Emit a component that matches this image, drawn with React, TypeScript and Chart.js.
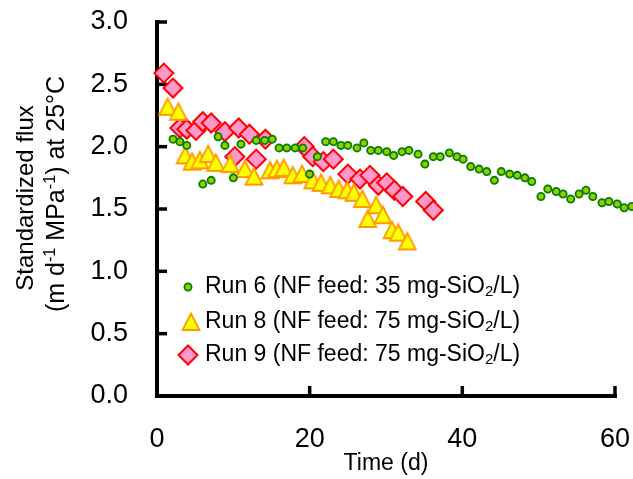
import React, { useEffect, useRef } from 'react';
import { Chart, registerables } from 'chart.js';

Chart.register(...registerables);

// ---- Data ----
const xTickValues = [0, 20, 40, 60];
const yTickValues = [0, 0.5, 1, 1.5, 2, 2.5, 3];
const xAxisEnd = 60; // the drawn axis line stops here; Run 6 points continue past it
const xViewMax = 62.36;

const run6Days = [2.1, 3.0, 3.9, 6.0, 7.1, 8.0, 8.9, 10.0, 11.0, 13.0, 14.1, 15.1, 16.0, 17.0, 18.1, 19.1, 20.0, 21.0, 22.1, 23.1, 24.1, 25.0, 26.2, 27.1, 28.0, 29.0, 30.1, 31.0, 32.1, 33.0, 34.2, 35.1, 36.2, 37.1, 38.3, 39.3, 40.1, 41.1, 42.2, 43.2, 44.2, 45.1, 46.2, 47.2, 48.2, 49.1, 50.3, 51.2, 52.3, 53.2, 54.2, 55.3, 56.2, 57.1, 58.3, 59.2, 60.3, 61.2, 62.2];
const run6Flux = [2.06, 2.04, 2.01, 1.70, 1.73, 2.08, 2.01, 1.75, 2.02, 2.05, 2.05, 2.06, 1.99, 1.99, 1.99, 1.99, 1.78, 1.92, 2.04, 2.04, 2.01, 2.01, 1.99, 2.03, 1.97, 1.97, 1.96, 1.93, 1.96, 1.97, 1.94, 1.86, 1.92, 1.92, 1.95, 1.92, 1.90, 1.84, 1.82, 1.80, 1.73, 1.80, 1.78, 1.77, 1.75, 1.72, 1.60, 1.66, 1.64, 1.62, 1.58, 1.62, 1.65, 1.60, 1.55, 1.56, 1.54, 1.51, 1.52];

const run8Days = [1.4, 2.8, 3.7, 4.6, 5.6, 6.7, 7.7, 9.6, 11.5, 12.7, 14.8, 15.7, 16.6, 17.8, 19.0, 20.4, 21.5, 22.7, 23.8, 24.9, 25.8, 26.9, 27.6, 28.7, 29.6, 30.8, 31.6, 32.8];
const run8Flux = [2.32, 2.28, 1.93, 1.88, 1.89, 1.94, 1.87, 1.86, 1.82, 1.76, 1.81, 1.82, 1.83, 1.77, 1.78, 1.73, 1.71, 1.69, 1.66, 1.65, 1.63, 1.58, 1.42, 1.53, 1.45, 1.33, 1.31, 1.24];

const run9Days = [0.9, 2.1, 3.0, 3.9, 5.1, 6.0, 7.1, 8.9, 10.2, 10.7, 12.1, 13.0, 14.2, 19.3, 20.4, 21.8, 23.1, 25.0, 26.6, 27.9, 29.0, 30.1, 31.1, 32.2, 35.2, 36.2];
const run9Flux = [2.59, 2.47, 2.15, 2.14, 2.13, 2.20, 2.19, 2.12, 1.92, 2.15, 2.10, 1.90, 2.06, 2.00, 1.92, 1.88, 1.90, 1.78, 1.74, 1.77, 1.69, 1.71, 1.65, 1.60, 1.56, 1.49];

const seriesNames = ['Run 6', 'Run 8', 'Run 9'];
const legendPre = ['Run 6 (NF feed: 35 mg-SiO', 'Run 8 (NF feed: 75 mg-SiO', 'Run 9 (NF feed: 75 mg-SiO'];
const legendSub = ['2', '2', '2'];
const legendPost = ['/L)', '/L)', '/L)'];

const xTitle = 'Time (d)';
const yTitleLine1 = 'Standardized flux';
const yTitleLine2 = [
  { t: '(m d', k: 'n' },
  { t: '-1', k: 'sup' },
  { t: ' MPa', k: 'n' },
  { t: '-1', k: 'sup' },
  { t: ') at 25°C', k: 'n' },
];

// ---- Styles ----
const FONT = '"Liberation Sans", Arial, Helvetica, sans-serif';
const GREEN_FILL = '#99CC00';
const GREEN_LINE = '#008000';
const TRI_FILL = '#FFFF00';
const TRI_LINE = '#FF9900';
const DIA_FILL = '#FF99CC';
const DIA_LINE = '#FF0000';

function makeTriangle(): HTMLCanvasElement {
  const c = document.createElement('canvas');
  c.width = 22;
  c.height = 22;
  const g = c.getContext('2d')!;
  g.beginPath();
  g.moveTo(11, 2.5);
  g.lineTo(2.5, 19);
  g.lineTo(19.5, 19);
  g.closePath();
  g.fillStyle = TRI_FILL;
  g.fill();
  g.lineWidth = 1.8;
  g.lineJoin = 'miter';
  g.strokeStyle = TRI_LINE;
  g.stroke();
  return c;
}

function fontPx(size: number) {
  return `${Math.round(size * 10) / 10}px ${FONT}`;
}

function drawRich(ctx: CanvasRenderingContext2D, segs: { t: string; k: string }[], size: number, startX: number) {
  let x = startX;
  for (const s of segs) {
    const small = s.k !== 'n';
    ctx.font = fontPx(small ? size * 0.65 : size);
    const dy = s.k === 'sup' ? -size * 0.36 : s.k === 'sub' ? size * 0.2 : 0;
    ctx.fillText(s.t, x, dy);
    x += ctx.measureText(s.t).width;
  }
}

function richWidth(ctx: CanvasRenderingContext2D, segs: { t: string; k: string }[], size: number) {
  let w = 0;
  for (const s of segs) {
    ctx.font = fontPx(s.k !== 'n' ? size * 0.65 : size);
    w += ctx.measureText(s.t).width;
  }
  return w;
}

export default function App() {
  const ref = useRef<HTMLCanvasElement | null>(null);

  useEffect(() => {
    if (!ref.current) return;
    const tri = makeTriangle();

    const customPlugin = {
      id: 'customAxes',
      beforeDatasetsDraw(chart: any) {
        const { ctx, chartArea: a, scales } = chart;
        const xEnd = scales.x.getPixelForValue(xAxisEnd);
        ctx.save();
        ctx.strokeStyle = '#000';
        ctx.lineWidth = 4;
        ctx.lineJoin = 'miter';
        ctx.lineCap = 'square';
        ctx.beginPath();
        ctx.moveTo(a.left, a.top);
        ctx.lineTo(a.left, a.bottom);
        ctx.lineTo(xEnd, a.bottom);
        ctx.stroke();
        ctx.lineCap = 'butt';
        ctx.lineWidth = 3.5;
        yTickValues.forEach((v) => {
          if (v === 0) return;
          const py = scales.y.getPixelForValue(v);
          ctx.beginPath();
          ctx.moveTo(a.left, py);
          ctx.lineTo(a.left + 10, py);
          ctx.stroke();
        });
        xTickValues.forEach((v) => {
          if (v === 0) return;
          const px = scales.x.getPixelForValue(v);
          ctx.beginPath();
          ctx.moveTo(px, a.bottom);
          ctx.lineTo(px, a.bottom - 10);
          ctx.stroke();
        });
        ctx.restore();
      },
      afterDraw(chart: any) {
        const { ctx, chartArea: a, scales } = chart;
        const xEnd = scales.x.getPixelForValue(xAxisEnd);
        ctx.save();
        ctx.fillStyle = '#000';
        // x title
        ctx.font = fontPx(23);
        ctx.textAlign = 'center';
        ctx.textBaseline = 'alphabetic';
        ctx.fillText(xTitle, (a.left + xEnd) / 2, 470);

        // y title (rotated)
        ctx.textAlign = 'left';
        ctx.save();
        ctx.translate(33, 198);
        ctx.rotate(-Math.PI / 2);
        ctx.font = fontPx(24);
        const w1 = ctx.measureText(yTitleLine1).width;
        ctx.fillText(yTitleLine1, -w1 / 2, 0);
        ctx.restore();
        ctx.save();
        ctx.translate(64, 194);
        ctx.rotate(-Math.PI / 2);
        const w2 = richWidth(ctx, yTitleLine2, 25);
        drawRich(ctx, yTitleLine2, 25, -w2 / 2);
        ctx.restore();

        // legend
        const rows = [287, 322, 355];
        const lSize = 23;
        rows.forEach((ry, i) => {
          if (i === 0) {
            ctx.beginPath();
            ctx.arc(188, ry, 3.6, 0, Math.PI * 2);
            ctx.fillStyle = GREEN_FILL;
            ctx.fill();
            ctx.lineWidth = 1.8;
            ctx.strokeStyle = GREEN_LINE;
            ctx.stroke();
          } else if (i === 1) {
            ctx.drawImage(tri, 191 - 11, ry - 11);
          } else {
            const r = 9.5;
            ctx.beginPath();
            ctx.moveTo(188, ry - r);
            ctx.lineTo(188 + r, ry);
            ctx.lineTo(188, ry + r);
            ctx.lineTo(188 - r, ry);
            ctx.closePath();
            ctx.fillStyle = DIA_FILL;
            ctx.fill();
            ctx.lineWidth = 2;
            ctx.strokeStyle = DIA_LINE;
            ctx.stroke();
          }
          ctx.fillStyle = '#000';
          ctx.save();
          ctx.translate(0, ry);
          ctx.textBaseline = 'middle';
          drawRich(
            ctx,
            [
              { t: legendPre[i], k: 'n' },
              { t: legendSub[i], k: 'sub' },
              { t: legendPost[i], k: 'n' },
            ],
            lSize,
            205
          );
          ctx.restore();
        });
        ctx.restore();
      },
    };

    const chart = new Chart(ref.current, {
      type: 'scatter',
      data: {
        datasets: [
          {
            label: seriesNames[0],
            data: run6Days.map((d, i) => ({ x: d, y: run6Flux[i] })),
            pointStyle: 'circle',
            pointRadius: 3.6,
            pointBorderWidth: 1.8,
            backgroundColor: GREEN_FILL,
            borderColor: GREEN_LINE,
            showLine: false,
            clip: false as any,
          },
          {
            label: seriesNames[1],
            data: run8Days.map((d, i) => ({ x: d, y: run8Flux[i] })),
            pointStyle: tri as any,
            pointRadius: 10,
            backgroundColor: TRI_FILL,
            borderColor: TRI_LINE,
            showLine: false,
            clip: false as any,
          },
          {
            label: seriesNames[2],
            data: run9Days.map((d, i) => ({ x: d, y: run9Flux[i] })),
            pointStyle: 'rectRot',
            pointRadius: 9.5,
            pointBorderWidth: 2,
            backgroundColor: DIA_FILL,
            borderColor: DIA_LINE,
            showLine: false,
            clip: false as any,
          },
        ],
      },
      options: {
        animation: false,
        responsive: false,
        devicePixelRatio: 1,
        events: [],
        layout: { autoPadding: false, padding: { top: 22, right: 0, left: 0, bottom: 0 } },
        plugins: {
          legend: { display: false },
          tooltip: { enabled: false },
          title: { display: false },
        },
        scales: {
          x: {
            type: 'linear',
            min: 0,
            max: xViewMax,
            afterFit: (s: any) => {
              s.height = 83;
              s.paddingLeft = 0;
              s.paddingRight = 0;
              s.paddingTop = 0;
              s.paddingBottom = 0;
            },
            afterBuildTicks: (s: any) => {
              s.ticks = xTickValues.map((v) => ({ value: v }));
            },
            grid: { display: false, drawTicks: false },
            border: { display: false },
            ticks: {
              padding: 27,
              color: '#000',
              font: { family: FONT, size: 27 },
              maxRotation: 0,
              autoSkip: false,
            },
          },
          y: {
            type: 'linear',
            min: 0,
            max: 3,
            afterFit: (s: any) => {
              s.width = 157;
              s.paddingLeft = 0;
              s.paddingRight = 0;
              s.paddingTop = 0;
              s.paddingBottom = 0;
            },
            afterBuildTicks: (s: any) => {
              s.ticks = yTickValues.map((v) => ({ value: v }));
            },
            grid: { display: false, drawTicks: false },
            border: { display: false },
            ticks: {
              padding: 29,
              color: '#000',
              font: { family: FONT, size: 27 },
              callback: (v: any) => Number(v).toFixed(1),
            },
          },
        },
      },
      plugins: [customPlugin],
    });

    return () => chart.destroy();
  }, []);

  return (
    <div style={{ position: 'absolute', left: 0, top: 0, width: 633, height: 479, background: '#fff' }}>
      <canvas ref={ref} width={633} height={479} style={{ display: 'block' }} />
    </div>
  );
}
